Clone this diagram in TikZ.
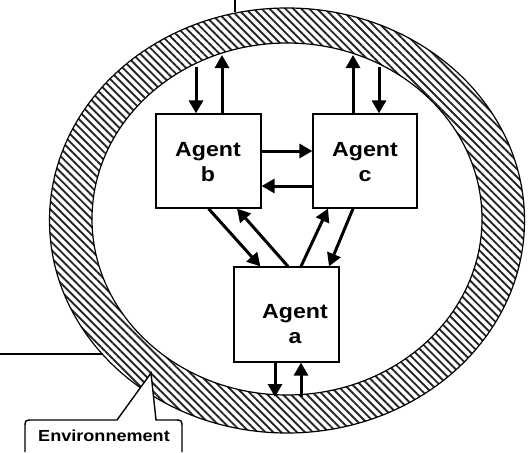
\documentclass[tikz,border=0pt]{standalone}
\usepackage{fontspec}
\newfontfamily\lsans[FakeStretch=1.13]{Liberation Sans}
\usetikzlibrary{calc,arrows.meta,patterns.meta}
\tikzset{
  agentbox/.style={draw=black, line width=1.2pt, fill=white, minimum width=105pt, minimum height=94pt, inner sep=0pt},
  agenttext/.style={align=center, font=\lsans\bfseries\fontsize{20.5}{25}\selectfont, inner sep=0pt},
  arr/.style={line width=3pt, -{Triangle[length=13pt,width=14pt]}},
  ringline/.style={draw=black, line width=1.2pt},
  leader/.style={draw=black, line width=1.4pt},
}
\begin{document}
\begin{tikzpicture}[x=1pt,y=-1pt]
\useasboundingbox (0,0) rectangle (532,452);
% ring
\fill[pattern={Lines[angle=-45,distance=5.6pt,line width=1.9pt]}, pattern color=black!85, even odd rule]
  (287,220.5) ellipse [x radius=237.5, y radius=212.5]
  (287,219) ellipse [x radius=195, y radius=176];
\draw[ringline] (287,220.5) ellipse [x radius=237.5, y radius=212.5];
\draw[ringline] (287,219) ellipse [x radius=195, y radius=176];
% leaders
\coordinate (topend) at (235,12.5);
\coordinate (topstart) at (235,0);
\draw[leader] (topstart) -- (topend);
\coordinate (leftstart) at (0,354);
\coordinate (leftend) at (102.7,354);
\draw[leader] (leftstart) -- (leftend);
% callout
\coordinate (tip) at (151,373);
\draw[leader, fill=white] (25,452) -- (25,428) .. controls (25,420) .. (33,420) -- (117,420) -- (tip) -- (156,420) -- (174,420) .. controls (182,420) .. (182,428) -- (182,452);
\node[font=\lsans\bfseries\fontsize{16}{18}\selectfont, inner sep=0pt] (env) at (104,436) {Environnement};
% agents
\node[agentbox] (b) at (208.5,161) {};
\node[agentbox, minimum width=104pt] (c) at (365,161) {};
\node[agentbox, minimum height=95pt] (a) at (286.5,314.5) {};
\node[agenttext] (bt) at (208,162) {Agent\\b};
\node[agenttext] (ct) at (365,162) {Agent\\c};
\node[agenttext] (at) at (295,324) {Agent\\a};
% ring <-> b
\coordinate (rb1) at (196,67);
\coordinate (rb2) at (222,55);
\draw[arr] (rb1) -- (rb1 |- b.north);
\draw[arr] (rb2 |- b.north) -- (rb2);
% ring <-> c
\coordinate (rc1) at (353,55);
\coordinate (rc2) at (379,67);
\draw[arr] (rc1 |- c.north) -- (rc1);
\draw[arr] (rc2) -- (rc2 |- c.north);
% ring <-> a
\coordinate (ra1) at (275,397);
\coordinate (ra2) at (301,397);
\draw[arr] (ra1 |- a.south) -- (ra1);
\draw[arr] (ra2) -- (ra2 |- a.south);
% b <-> c
\draw[arr] ($(b.east)+(0,-10)$) -- ($(c.west)+(0,-10)$);
\draw[arr] ($(c.west)+(0,25)$) -- ($(b.east)+(0,25)$);
% b <-> a, c <-> a
\draw[arr] (b.south) -- ($(a.north west)+(27,0)$);
\draw[arr] ($(a.north)+(1.5,0)$) -- ($(b.south)+(28.5,0)$);
\draw[arr] ($(a.north)+(14.5,0)$) -- ($(c.south)+(-37,0)$);
\draw[arr] ($(c.south)+(-12,0)$) -- ($(a.north)+(42.5,0)$);
\end{tikzpicture}
\end{document}
